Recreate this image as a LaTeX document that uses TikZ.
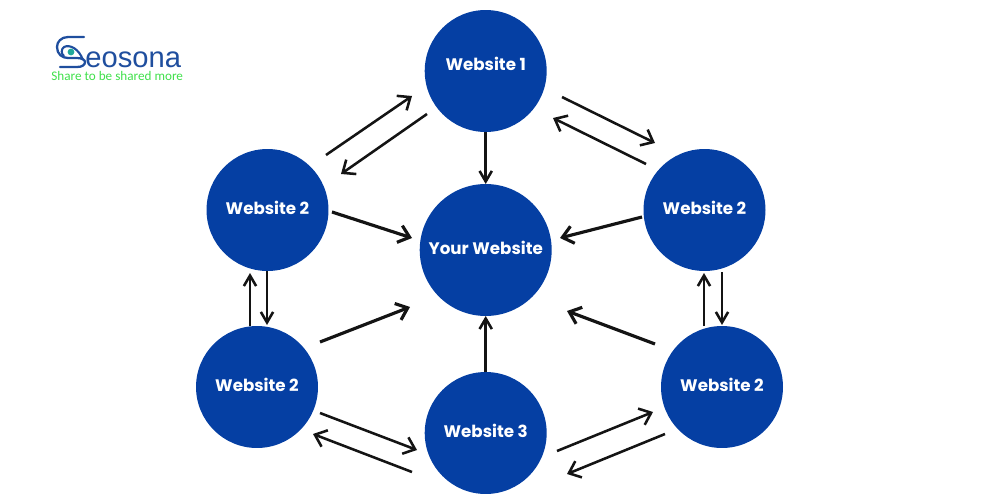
\documentclass[tikz,border=0pt]{standalone}
\usepackage{fontspec}
\usepackage{xcolor}
\setmainfont{Poppins}
\newfontfamily\logofont{Liberation Sans}
\newfontfamily\slogfont{Carlito}
\usetikzlibrary{arrows.meta}
\definecolor{siteblue}{HTML}{053FA3}
\definecolor{logoblue}{HTML}{1F4E9E}
\definecolor{logogreen}{HTML}{3FE04A}
\definecolor{logoteal}{HTML}{1FA89A}
\tikzset{
  site/.style={circle,fill=siteblue,text=white,inner sep=0pt,outer sep=0pt,minimum size=2.44cm,text height=7.2pt,text depth=2.3pt,font=\fontsize{9.5}{11}\selectfont\bfseries},
  hub/.style={site,minimum size=2.64cm},
  link/.style={-{Straight Barb[length=6pt,width=10pt]},line width=1.45pt,color=black!92},
  slimlink/.style={link,-{Straight Barb[length=6pt,width=7pt]}},
  heavylink/.style={link,line width=1.8pt},
}
\begin{document}
\begin{tikzpicture}[x=0.02cm,y=-0.02cm]
\useasboundingbox (0,0) rectangle (1000,500);

\node[site,text depth=8pt] (top) at (485.7,71) {Website 1};
\node[hub] (hub) at (485.7,250) {Your Website};
\node[site] (lefttop) at (267.5,210) {Website 2};
\node[site] (righttop) at (704.5,210) {Website 2};
\node[site] (leftlow) at (257,387) {Website 2};
\node[site] (rightlow) at (722,387) {Website 2};
\node[site] (bottom) at (485.7,433) {Website 3};

% free ends of the arrows
\foreach \name/\x/\y in {
  a1/326/155, a2/412/96, b1/427/114, b2/341/174,
  c1/562/97, c2/655/143, d1/646/164, d2/553/118,
  e1/332/212, e2/412/238, f1/642/217, f2/560/238,
  g1/250/326, g2/250/273, h1/267/271, h2/267/325,
  i1/704/326, i2/704/273, j1/722/272, j2/722/325,
  k1/320/342, k2/410/307, l1/655/344, l2/567/311,
  m1/320/413, m2/417/450, n1/412/472, n2/313/434,
  o1/557/451, o2/653/412, p1/665/434, p2/567/474}
  \coordinate (\name) at (\x,\y);

\draw[slimlink] (top) -- (hub);
\draw[slimlink] (bottom) -- (hub);
\foreach \arc in {a,b,c,d,m,n,o,p}
  \draw[link] (\arc1) -- (\arc2);
\foreach \arc in {e,f,k,l}
  \draw[heavylink] (\arc1) -- (\arc2);
\foreach \arc in {g,h,i,j}
  \draw[slimlink] (\arc1) -- (\arc2);

% logo
\draw[logoblue,line width=1.3pt,line cap=round] (84,37) -- (68,37) .. controls (61,37) and (57,42) .. (57,47) .. controls (57,54) and (62,58) .. (68,58) -- (77,58) .. controls (82,58) and (85,60) .. (85,62) .. controls (85,65) and (82,67) .. (77,67) -- (60,67);
\draw[logoblue,line width=1.2pt] (83,60) .. controls (79,49) and (70,44) .. (64,47) .. controls (61,49) and (61,54) .. (64,56);
\fill[logoteal] (71,52) circle (3.4);
\node[text=logoblue,anchor=base west,inner sep=0pt,font=\logofont\fontsize{16.6}{18}\selectfont] (brand) at (85,68) {eosona};
\node[text=logogreen,anchor=base west,inner sep=0pt,font=\slogfont\fontsize{7.5}{9}\selectfont] (slogan) at (51,81) {Share to be shared more};
\end{tikzpicture}
\end{document}
